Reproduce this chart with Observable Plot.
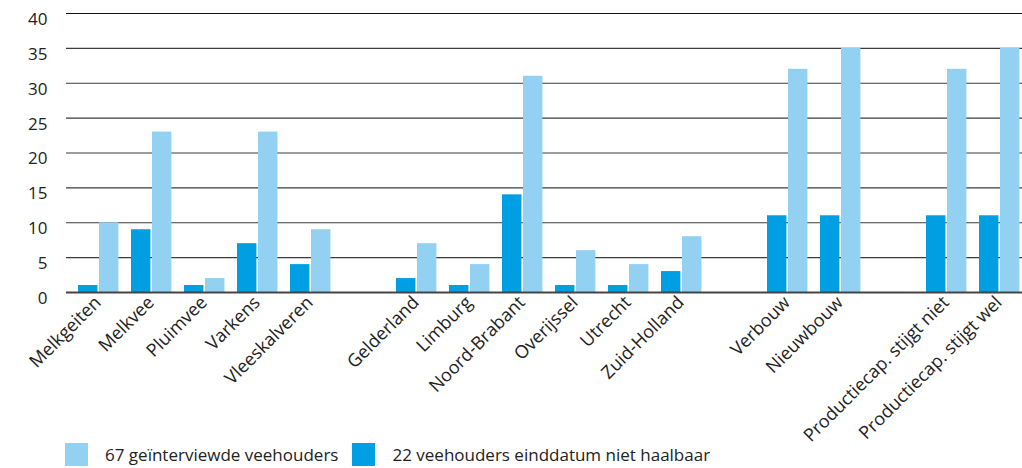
<!DOCTYPE html>
<html>
<head>
<meta charset="utf-8">
<script src="https://cdn.jsdelivr.net/npm/d3@7"></script>
<script src="https://cdn.jsdelivr.net/npm/@observablehq/plot@0.6"></script>
<style>
  html, body { margin: 0; padding: 0; background: #fff; }
  body { width: 1022px; height: 468px; position: relative; overflow: hidden; font-family: "Open Sans", sans-serif; }
  #chart svg { overflow: visible; }
  #legend { position: absolute; left: 65px; top: 443px; display: flex; align-items: center; font-size: 17px; color: #222; }
  .sw { width: 23px; height: 23px; display: inline-block; margin-right: 17px; }
  .item { display: flex; align-items: center; margin-right: 14px; }
</style>
</head>
<body>
<div id="chart"></div>
<div id="legend"></div>
<script>
// Categories (gapN = empty spacer slots between groups)
const categories = ["Melkgeiten", "Melkvee", "Pluimvee", "Varkens", "Vleeskalveren", "gap1",
  "Gelderland", "Limburg", "Noord-Brabant", "Overijssel", "Utrecht", "Zuid-Holland", "gap2",
  "Verbouw", "Nieuwbouw", "gap3",
  "Productiecap. stijgt niet", "Productiecap. stijgt wel"];
const barCategories = categories.filter(c => !c.startsWith("gap"));

const seriesNames = ["67 geïnterviewde veehouders", "22 veehouders einddatum niet haalbaar"];
const interviewed = [10, 23, 2, 23, 9, 7, 4, 31, 6, 4, 8, 32, 35, 32, 35];
const notFeasible = [1, 9, 1, 7, 4, 2, 1, 14, 1, 1, 3, 11, 11, 11, 11];
const yTicks = [0, 5, 10, 15, 20, 25, 30, 35, 40];

const colors = { light: "#93d1f3", dark: "#009fe3" };

const lightData = barCategories.map((c, i) => ({ cat: c, value: interviewed[i] }));
const darkData = barCategories.map((c, i) => ({ cat: c, value: notFeasible[i] }));

const chart = Plot.plot({
  width: 1022,
  height: 440,
  marginLeft: 66,
  marginRight: 0,
  marginTop: 13,
  marginBottom: 148,
  style: { fontFamily: "Open Sans, sans-serif", fontSize: "17px", color: "#222", background: "transparent" },
  x: { type: "band", domain: categories, range: [66, 1031], padding: 0 },
  y: { domain: [0, 40], range: [292, 13] },
  marks: [
    Plot.ruleY(yTicks.filter(t => t > 0 && t < 40), { stroke: "#3c3c3c", strokeWidth: 1.2 }),
    Plot.ruleY([40], { stroke: "#111", strokeWidth: 1.2 }),
    Plot.barY(darkData, { x: "cat", y: "value", fill: colors.dark, insetLeft: 6, insetRight: 27.6 }),
    Plot.barY(lightData, { x: "cat", y: "value", fill: colors.light, insetLeft: 27, insetRight: 6.6 }),
    Plot.ruleY([0], { stroke: "#444", strokeWidth: 2 }),
    Plot.axisY(yTicks, { anchor: "left", tickSize: 0, tickPadding: 19, dy: 6, label: null, fontSize: 17 }),
    Plot.axisX({ anchor: "bottom", tickSize: 0, tickRotate: -45, tickPadding: 7, label: null, fontSize: 18,
      tickFormat: d => d.startsWith("gap") ? "" : d, dx: -1 })
  ]
});
document.getElementById("chart").appendChild(chart);

const legend = document.getElementById("legend");
[[seriesNames[0], colors.light], [seriesNames[1], colors.dark]].forEach(([name, col]) => {
  const item = document.createElement("div");
  item.className = "item";
  const sw = document.createElement("span");
  sw.className = "sw";
  sw.style.background = col;
  const t = document.createElement("span");
  t.textContent = name;
  item.appendChild(sw);
  item.appendChild(t);
  legend.appendChild(item);
});
</script>
</body>
</html>
